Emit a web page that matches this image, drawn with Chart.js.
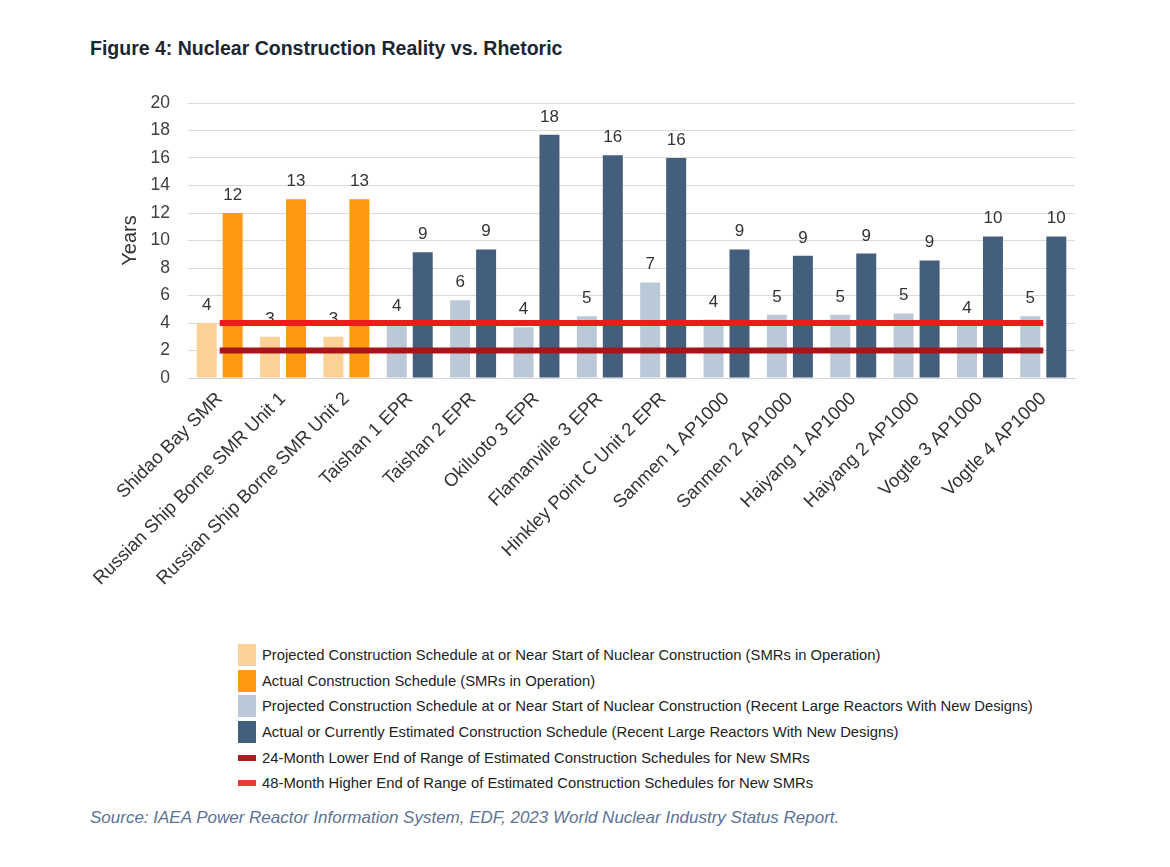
<!DOCTYPE html>
<html>
<head>
<meta charset="utf-8">
<script src="https://cdn.jsdelivr.net/npm/chart.js@4.4.1/dist/chart.umd.min.js"></script>
<style>
    body { margin: 0; background: #fff; font-family: "Liberation Sans", Arial, sans-serif; }
    #page { position: relative; width: 1170px; height: 867px; overflow: hidden; }
    #title { position: absolute; left: 90px; top: 37px; font-size: 19.5px; font-weight: bold; color: #1c2633; }
    #chartBox { position: absolute; left: 0; top: 80px; width: 1170px; height: 540px; }
    #chartBox canvas { display: block; }
    #legend { position: absolute; left: 238px; top: 642px; }
    .lg-row { height: 25.7px; display: flex; align-items: center; font-size: 14.8px; color: #222; }
    .lg-box { width: 18px; margin-right: 6px; }
    #source { position: absolute; left: 90px; top: 808px; font-size: 17px; font-style: italic; color: #5b7394; }
</style>
</head>
<body>
<div id="page">
    <div id="title">Figure 4: Nuclear Construction Reality vs. Rhetoric</div>
    <div id="chartBox"><canvas id="constructionChart" width="1170" height="540"></canvas></div>
    <div id="legend"></div>
    <div id="source">Source: IAEA Power Reactor Information System, EDF, 2023 World Nuclear Industry Status Report.</div>
</div>
<script>
// Dữ liệu (năm)
const categories = [
    "Shidao Bay SMR", "Russian Ship Borne SMR Unit 1", "Russian Ship Borne SMR Unit 2",
    "Taishan 1 EPR", "Taishan 2 EPR", "Okiluoto 3 EPR", "Flamanville 3 EPR",
    "Hinkley Point C Unit 2 EPR", "Sanmen 1 AP1000", "Sanmen 2 AP1000",
    "Haiyang 1 AP1000", "Haiyang 2 AP1000", "Vogtle 3 AP1000", "Vogtle 4 AP1000"
];
const smrProjected   = [4, 3, 3, null, null, null, null, null, null, null, null, null, null, null];
const smrActual      = [12, 13, 13, null, null, null, null, null, null, null, null, null, null, null];
const largeProjected = [null, null, null, 3.9, 5.65, 3.7, 4.5, 6.95, 4.25, 4.6, 4.6, 4.7, 3.8, 4.5];
const largeActual    = [null, null, null, 9.15, 9.35, 17.7, 16.2, 16.0, 9.35, 8.9, 9.05, 8.55, 10.3, 10.3];
const smrLowYears    = categories.map(() => 2);  // 24 tháng
const smrHighYears   = categories.map(() => 4);  // 48 tháng
const yTicks = [0, 2, 4, 6, 8, 10, 12, 14, 16, 18, 20];

const FONT = '"Liberation Sans", Arial, sans-serif';

// Nhãn giá trị trên cột
const barLabels = {
    id: "barLabels",
    beforeDatasetsDraw(chart) {
        const ctx = chart.ctx;
        ctx.save();
        ctx.font = "17px " + FONT;
        ctx.fillStyle = "#333";
        ctx.textAlign = "center";
        ctx.textBaseline = "alphabetic";
        chart.data.datasets.forEach((ds, i) => {
            const meta = chart.getDatasetMeta(i);
            if (meta.type !== "bar") return;
            meta.data.forEach((bar, j) => {
                const v = ds.data[j];
                if (v == null) return;
                ctx.fillText(Math.round(v), bar.x, bar.y - 13);
            });
        });
        ctx.restore();
    }
};

const chart = new Chart(document.getElementById("constructionChart"), {
    type: "bar",
    data: {
        labels: categories,
        datasets: [
            { label: "Projected Construction Schedule at or Near Start of Nuclear Construction (SMRs in Operation)",
              data: smrProjected, backgroundColor: "#fcd196", skipNull: true, order: 1 },
            { label: "Actual Construction Schedule (SMRs in Operation)",
              data: smrActual, backgroundColor: "#fd9a10", skipNull: true, order: 1 },
            { label: "Projected Construction Schedule at or Near Start of Nuclear Construction (Recent Large Reactors With New Designs)",
              data: largeProjected, backgroundColor: "#bbc8d8", skipNull: true, order: 1 },
            { label: "Actual or Currently Estimated Construction Schedule (Recent Large Reactors With New Designs)",
              data: largeActual, backgroundColor: "#445f7d", skipNull: true, order: 1 },
            { type: "line", label: "24-Month Lower End of Range of Estimated Construction Schedules for New SMRs",
              data: smrLowYears, borderColor: "#a8141a", backgroundColor: "#a8201c",
              borderWidth: 6, pointRadius: 0, order: 0 },
            { type: "line", label: "48-Month Higher End of Range of Estimated Construction Schedules for New SMRs",
              data: smrHighYears, borderColor: "#ee1b1b", backgroundColor: "#e83a35",
              borderWidth: 6, pointRadius: 0, order: 0 }
        ]
    },
    options: {
        responsive: false,
        animation: false,
        categoryPercentage: 0.82,
        barPercentage: 0.77,
        layout: { padding: { top: 23, left: 110, right: 95, bottom: 27 } },
        plugins: {
            legend: { display: false },
            tooltip: { enabled: false }
        },
        scales: {
            x: {
                grid: { display: false },
                border: { display: true, color: "#d6d6d6" },
                ticks: {
                    autoSkip: false, minRotation: 45, maxRotation: 45, padding: 2,
                    color: "#333", font: { family: FONT, size: 18.5 }
                },
                afterFit(scale) { scale.height = 215; }
            },
            y: {
                min: 0, max: 20,
                afterBuildTicks(scale) { scale.ticks = yTicks.map(v => ({ value: v })); },
                grid: { color: "#dadada", drawTicks: true, tickLength: 16, tickColor: "rgba(0,0,0,0)" },
                border: { display: false },
                ticks: { padding: 2, color: "#404040", font: { family: FONT, size: 17.5 } },
                title: { display: true, text: "Years", color: "#333", padding: { top: 8, bottom: 0 },
                         font: { family: FONT, size: 20 } },
                afterFit(scale) { scale.width = 78; }
            }
        }
    },
    plugins: [barLabels]
});

// Chú giải dạng danh sách dọc
const legendEl = document.getElementById("legend");
chart.data.datasets.forEach((ds, i) => {
    const isLine = chart.getDatasetMeta(i).type === "line";
    const row = document.createElement("div");
    row.className = "lg-row";
    const box = document.createElement("span");
    box.className = "lg-box";
    box.style.background = ds.backgroundColor;
    box.style.height = isLine ? "6px" : "22px";
    row.appendChild(box);
    row.appendChild(document.createTextNode(ds.label));
    legendEl.appendChild(row);
});
</script>
</body>
</html>
